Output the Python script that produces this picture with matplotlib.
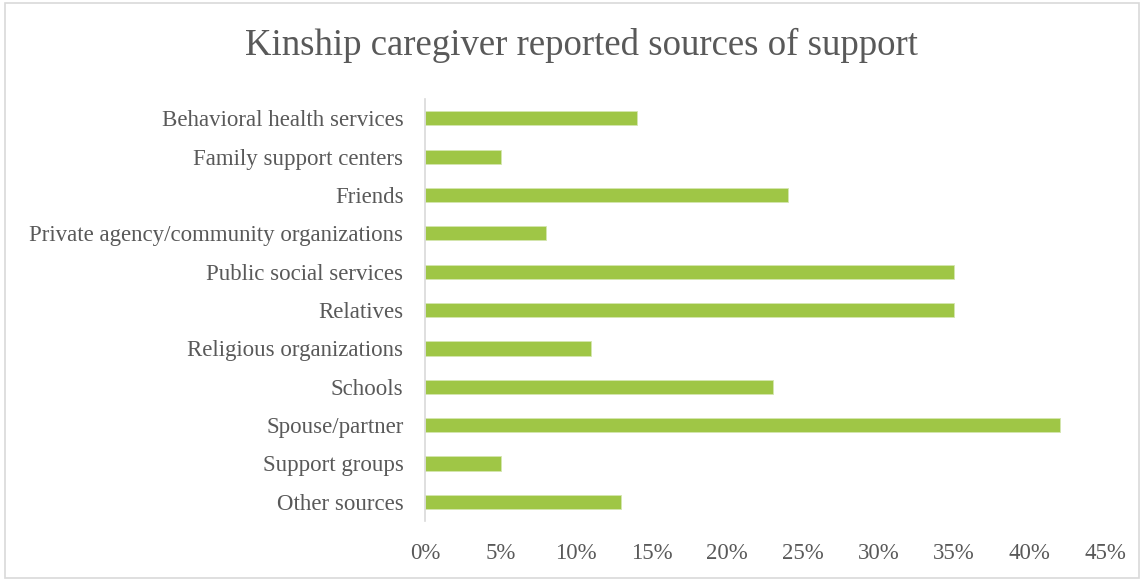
import matplotlib
matplotlib.use("Agg")
import matplotlib.pyplot as plt
from matplotlib.patches import Rectangle
from matplotlib.ticker import FuncFormatter, MultipleLocator

categories = [
    "Behavioral health services",
    "Family support centers",
    "Friends",
    "Private agency/community organizations",
    "Public social services",
    "Relatives",
    "Religious organizations",
    "Schools",
    "Spouse/partner",
    "Support groups",
    "Other sources",
]
values = [14, 5, 24, 8, 35, 35, 11, 23, 42, 5, 13]
title = "Kinship caregiver reported sources of support"

plt.rcParams['font.family'] = ['Liberation Serif', 'DejaVu Serif']
text_color = '#595959'
bar_color = '#9fc646'

fig = plt.figure(figsize=(11.44, 5.8), dpi=100)
ax = fig.add_axes([0.3715, 0.1017, 0.9659 - 0.3715, 0.829 - 0.1017])

y = list(range(len(categories)))
ax.barh(y, values, height=0.37, color=bar_color, edgecolor='#d4e6b0', linewidth=0.6)
ax.set_ylim(len(categories) - 0.5, -0.5)
ax.set_yticks(y)
ax.set_yticklabels(categories)
ax.set_xlim(0, 45)
ax.xaxis.set_major_locator(MultipleLocator(5))
ax.xaxis.set_major_formatter(FuncFormatter(lambda v, p: f"{int(round(v))}%"))

for s in ['top', 'right', 'bottom']:
    ax.spines[s].set_visible(False)
ax.spines['left'].set_color('#d9d9d9')
ax.spines['left'].set_linewidth(1.2)

ax.tick_params(axis='both', length=0, labelsize=16.5, labelcolor=text_color)
ax.tick_params(axis='y', pad=15.5)
ax.tick_params(axis='x', pad=16)

fig.text(0.508, 0.922, title, ha='center', va='center', fontsize=26.5, color=text_color)

fig.patches.append(Rectangle((0.004, 0.004), 0.992, 0.99, transform=fig.transFigure,
                             fill=False, edgecolor='#d9d9d9', linewidth=1.2))

fig.savefig("out.png", dpi=100, facecolor='white')
